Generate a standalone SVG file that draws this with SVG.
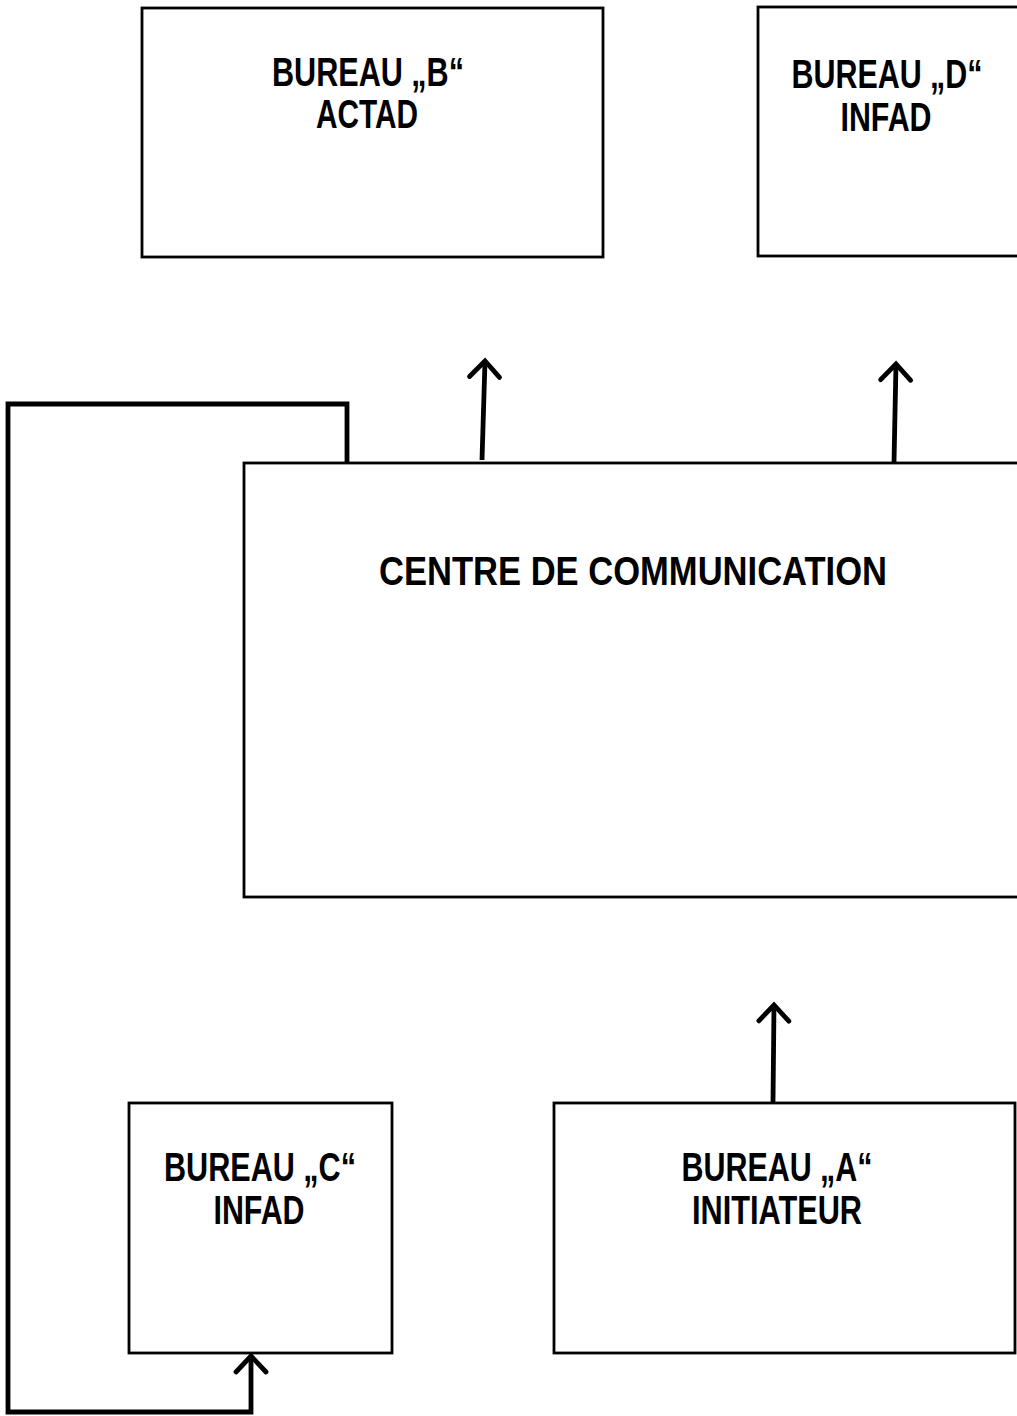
<svg xmlns="http://www.w3.org/2000/svg" width="1017" height="1416" viewBox="0 0 1017 1416">
<style>
.box{fill:#fff;stroke:#000;stroke-width:2.8}
.lbl{font-family:"Liberation Sans",Arial,sans-serif;font-weight:bold;font-size:41px;fill:#000;text-anchor:middle}
.con{fill:none;stroke:#000;stroke-width:4.8;stroke-linejoin:miter}
</style>
<defs>
<marker id="arr" markerUnits="userSpaceOnUse" orient="auto" refX="0" refY="0" markerWidth="40" markerHeight="40" viewBox="-20 -20 40 40" overflow="visible">
<path d="M -16 -15 L 0 0 L -16 15" fill="none" stroke="#000" stroke-width="4.8" stroke-linecap="round" stroke-linejoin="miter"/>
</marker>
</defs>
<rect width="1017" height="1416" fill="#fff"/>
<g id="connectors">
<path class="con" d="M 482 460 L 485 361" marker-end="url(#arr)"/>
<path class="con" d="M 894 462 L 896 364" marker-end="url(#arr)"/>
<path class="con" d="M 773 1102 L 774 1005" marker-end="url(#arr)"/>
<path class="con" d="M 347 462 L 347 404 L 8 404 L 8 1412 L 251 1412 L 251 1356" marker-end="url(#arr)"/>
</g>
<g id="bureau-b">
<rect class="box" x="142" y="8" width="461" height="249"/>
<text class="lbl" x="368" y="86" textLength="192" lengthAdjust="spacingAndGlyphs">BUREAU „B“</text>
<text class="lbl" x="367" y="128" textLength="102" lengthAdjust="spacingAndGlyphs">ACTAD</text>
</g>
<g id="bureau-d">
<rect class="box" x="758" y="7" width="270" height="249"/>
<text class="lbl" x="887" y="88" textLength="191" lengthAdjust="spacingAndGlyphs">BUREAU „D“</text>
<text class="lbl" x="886" y="131" textLength="91" lengthAdjust="spacingAndGlyphs">INFAD</text>
</g>
<g id="centre">
<rect class="box" x="244" y="463" width="790" height="434"/>
<text class="lbl" x="633" y="585" textLength="508" lengthAdjust="spacingAndGlyphs">CENTRE DE COMMUNICATION</text>
</g>
<g id="bureau-c">
<rect class="box" x="129" y="1103" width="263" height="250"/>
<text class="lbl" x="260" y="1181" textLength="192" lengthAdjust="spacingAndGlyphs">BUREAU „C“</text>
<text class="lbl" x="259" y="1224" textLength="91" lengthAdjust="spacingAndGlyphs">INFAD</text>
</g>
<g id="bureau-a">
<rect class="box" x="554" y="1103" width="461" height="250"/>
<text class="lbl" x="777" y="1181" textLength="191" lengthAdjust="spacingAndGlyphs">BUREAU „A“</text>
<text class="lbl" x="777" y="1224" textLength="170" lengthAdjust="spacingAndGlyphs">INITIATEUR</text>
</g>
</svg>
